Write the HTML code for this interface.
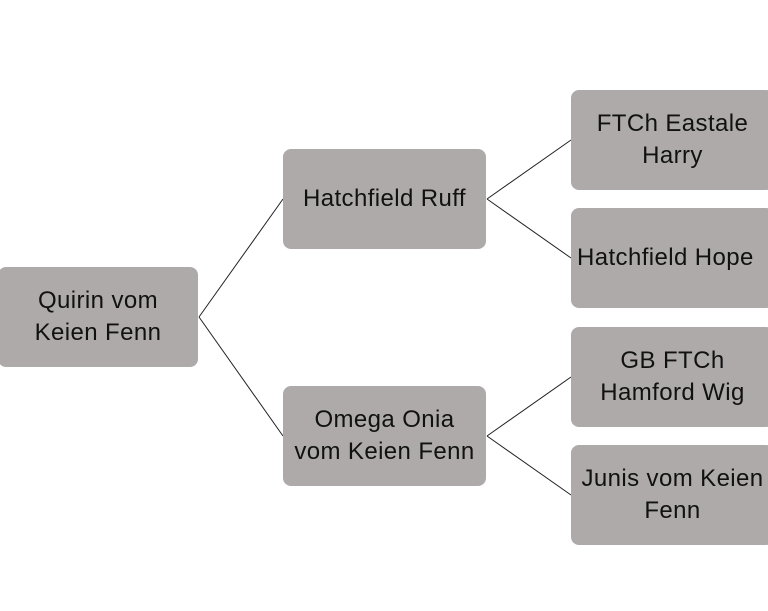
<!DOCTYPE html><html><head><style>
body{margin:0;width:768px;height:611px;background:#fff;position:relative;overflow:hidden;font-family:"Liberation Sans",sans-serif}
.b{position:absolute;background:#aeaaa9;border-radius:8px;display:flex;align-items:center;justify-content:center;text-align:center;font-size:24px;letter-spacing:0.4px;line-height:32px;color:#111}
</style></head><body>
<svg width="768" height="611" style="position:absolute;left:0;top:0">
<g stroke="#222" stroke-width="1" fill="none">
<path d="M199 317 L283 199 M199 317 L283 436"/>
<path d="M487 199 L571 140 M487 199 L571 258"/>
<path d="M487 436 L571 377 M487 436 L571 495"/>
</g></svg>
<div class="b" style="left:-2px;top:267px;width:200px;height:100px">Quirin vom<br>Keien Fenn</div>
<div class="b" style="left:283px;top:149px;width:203px;height:100px">Hatchfield Ruff</div>
<div class="b" style="left:283px;top:386px;width:203px;height:100px">Omega Onia<br>vom Keien Fenn</div>
<div class="b" style="left:571px;top:90px;width:203px;height:100px">FTCh Eastale<br>Harry</div>
<div class="b" style="left:571px;top:208px;width:203px;height:100px;justify-content:flex-start;padding-left:6px;box-sizing:border-box;white-space:nowrap">Hatchfield Hope</div>
<div class="b" style="left:571px;top:327px;width:203px;height:100px">GB FTCh<br>Hamford Wig</div>
<div class="b" style="left:571px;top:445px;width:203px;height:100px">Junis vom Keien<br>Fenn</div>
</body></html>
